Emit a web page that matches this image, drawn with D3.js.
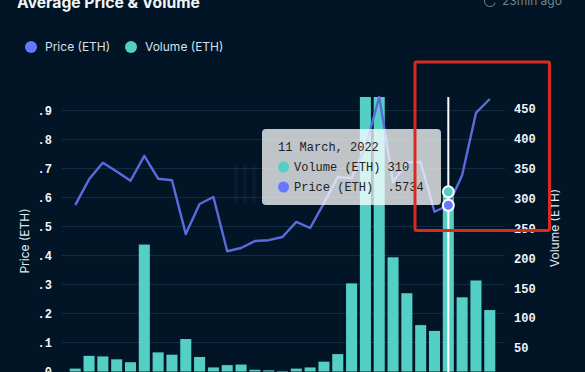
<!DOCTYPE html>
<html>
<head>
<meta charset="utf-8">
<script src="https://cdn.jsdelivr.net/npm/d3@7"></script>
<style>
    html, body { margin: 0; padding: 0; background: #021526; overflow: hidden; }
    svg { display: block; }
    .mono { font-family: "Liberation Mono", monospace; }
    .sans { font-family: Inter, sans-serif; }
</style>
</head>
<body>
<svg id="chart" width="585" height="372"></svg>
<script>
const width = 585;
const height = 372;

const priceTicks = [0, .1, .2, .3, .4, .5, .6, .7, .8, .9];
const volumeTicks = [50, 100, 150, 200, 250, 300, 350, 400, 450];

// the two tallest bars run off the top so those are guesses
const days = d3.range(31);
const volume = [5, 27, 26, 21, 16, 219, 33, 29, 56, 25, 7, 11, 12, 3, 2, 1, 5, 7, 17, 30, 152, 560, 620, 197, 135, 80, 70, 310, 128, 157, 106];
const price = [.574, .663, .72, .69, .658, .744, .665, .66, .474, .578, .602, .415, .426, .45, .453, .464, .516, .495, .581, .671, .667, .774, .947, .653, .722, .722, .551, .5734, .677, .892, .94];

const hovered = 27;
const hoverDate = "11 March, 2022";
const hoverVolume = "310";
const hoverPrice = ".5734";

const teal = "#54cfc5";
const blue = "#5a6bdc";
const legendBlue = "#6678ff";
const gridColor = "#122f42";

const plot = { left: 62, right: 505, top: 97, bottom: 371.5 };

let svg = d3.select("#chart");

let x = d3.scaleBand()
    .domain(days)
    .range([69.7, 495.3])
    .paddingInner(0.2)
    .paddingOuter(0);

let yPrice = d3.scaleLinear()
    .domain([0, .947])
    .range([plot.bottom, plot.top])
    .clamp(true);

let yVolume = d3.scaleLinear()
    .domain([0, 473.5])
    .range([plot.bottom, plot.top])
    .clamp(true);

// the right labels don't sit on the grid in the original, they spread a bit wider
let yVolumeLabels = d3.scaleLinear()
    .domain([50, 450])
    .range([348, 109]);

// title and the "updated" note are cut off by the top of the picture
svg.append("text")
    .classed("sans", true)
    .attr("x", 17)
    .attr("y", 8)
    .attr("font-size", 15.7)
    .attr("font-weight", 700)
    .attr("fill", "#f2f5f8")
    .text("Average Price & Volume");

svg.append("path")
    .attr("d", d3.arc()({ innerRadius: 5, outerRadius: 6, startAngle: Math.PI * 0.6, endAngle: Math.PI * 2 }))
    .attr("transform", "translate(490 1)")
    .attr("fill", "#76838f");

svg.append("text")
    .classed("sans", true)
    .attr("x", 502)
    .attr("y", 5)
    .attr("font-size", 12)
    .attr("fill", "#76838f")
    .text("23min ago");

// legend
let legend = svg.append("g")
    .selectAll("g")
    .data([
        { name: "Price (ETH)", color: legendBlue, x: 31 },
        { name: "Volume (ETH)", color: teal, x: 131 }
    ])
    .join("g")
    .attr("transform", d => `translate(${d.x} 47)`);

legend.append("circle")
    .attr("r", 6)
    .attr("fill", d => d.color);

legend.append("text")
    .classed("sans", true)
    .attr("x", 14)
    .attr("dy", "0.35em")
    .attr("font-size", 12)
    .attr("fill", "#d7e0e8")
    .text(d => d.name);

// grid
svg.append("g")
    .selectAll("line")
    .data(priceTicks.filter(d => d > 0))
    .join("line")
    .attr("x1", plot.left)
    .attr("x2", plot.right)
    .attr("y1", d => yPrice(d))
    .attr("y2", d => yPrice(d))
    .attr("stroke", gridColor);

// faint logo behind the chart
svg.append("g")
    .selectAll("rect")
    .data([234, 243, 252])
    .join("rect")
    .attr("x", d => d)
    .attr("y", 165)
    .attr("width", 4)
    .attr("height", 38)
    .attr("fill", "rgba(120,170,210,0.05)");

// axes
let axisLeft = d3.axisLeft(yPrice)
    .tickValues(priceTicks)
    .tickSize(0)
    .tickPadding(0)
    .tickFormat(d => d === 0 ? "0" : d3.format(".1f")(d).slice(1));

let axisRight = d3.axisRight(yVolumeLabels)
    .tickValues(volumeTicks)
    .tickSize(0)
    .tickPadding(0);

svg.append("g")
    .attr("transform", "translate(52 0)")
    .call(axisLeft)
    .call(g => g.select(".domain").remove());

svg.append("g")
    .attr("transform", "translate(514 0)")
    .call(axisRight)
    .call(g => g.select(".domain").remove());

svg.selectAll(".tick text")
    .classed("mono", true)
    .attr("font-family", null)
    .style("font-size", "12px")
    .style("font-weight", 700)
    .attr("fill", "#f2f5f8");

svg.append("text")
    .classed("sans", true)
    .attr("transform", "translate(25 241) rotate(-90)")
    .attr("text-anchor", "middle")
    .attr("dy", "0.35em")
    .attr("font-size", 12)
    .attr("fill", "#e3e9ee")
    .text("Price (ETH)");

svg.append("text")
    .classed("sans", true)
    .attr("transform", "translate(555 228) rotate(-90)")
    .attr("text-anchor", "middle")
    .attr("dy", "0.35em")
    .attr("font-size", 12)
    .attr("fill", "#e3e9ee")
    .text("Volume (ETH)");

// bars
svg.append("g")
    .selectAll("rect")
    .data(volume)
    .join("rect")
    .attr("x", (d, i) => x(i))
    .attr("y", d => yVolume(d))
    .attr("width", x.bandwidth())
    .attr("height", d => plot.bottom - yVolume(d))
    .attr("fill", teal);

// price line
let line = d3.line()
    .x((d, i) => x(i) + x.bandwidth() / 2)
    .y(d => yPrice(d));

svg.append("path")
    .datum(price)
    .attr("d", line)
    .attr("fill", "none")
    .attr("stroke", blue)
    .attr("stroke-width", 2.4)
    .attr("stroke-linejoin", "round");

// hover cursor and its two dots
let hoverX = x(hovered) + x.bandwidth() / 2;

svg.append("line")
    .attr("x1", hoverX)
    .attr("x2", hoverX)
    .attr("y1", plot.top)
    .attr("y2", height)
    .attr("stroke", "#fff")
    .attr("stroke-width", 2);

svg.append("circle")
    .attr("cx", hoverX)
    .attr("cy", yVolume(volume[hovered]))
    .attr("r", 5.5)
    .attr("fill", teal)
    .attr("stroke", "#fff")
    .attr("stroke-width", 2);

svg.append("circle")
    .attr("cx", hoverX)
    .attr("cy", yPrice(price[hovered]))
    .attr("r", 5.5)
    .attr("fill", legendBlue)
    .attr("stroke", "#fff")
    .attr("stroke-width", 2);

// tooltip
let tip = svg.append("g")
    .attr("transform", "translate(262 129)");

tip.append("rect")
    .attr("width", 179)
    .attr("height", 76)
    .attr("rx", 4)
    .attr("fill", "rgba(255,255,255,0.75)");

tip.append("text")
    .classed("mono", true)
    .attr("x", 16)
    .attr("y", 22)
    .attr("font-size", 12)
    .attr("fill", "#222")
    .text(hoverDate);

let tipRows = tip.selectAll(".row")
    .data([
        { label: "Volume (ETH) " + hoverVolume, color: teal, y: 38 },
        { label: "Price (ETH)  " + hoverPrice, color: legendBlue, y: 58 }
    ])
    .join("g")
    .classed("row", true)
    .attr("transform", d => `translate(0 ${d.y})`);

tipRows.append("circle")
    .attr("cx", 21.5)
    .attr("r", 5.5)
    .attr("fill", d => d.color);

tipRows.append("text")
    .classed("mono", true)
    .attr("x", 32)
    .attr("dy", "0.35em")
    .attr("font-size", 12)
    .attr("fill", "#222")
    .style("white-space", "pre")
    .text(d => d.label);

// red box somebody drew over the screenshot
svg.append("rect")
    .attr("x", 415)
    .attr("y", 62)
    .attr("width", 134.5)
    .attr("height", 168.5)
    .attr("rx", 1.5)
    .attr("fill", "none")
    .attr("stroke", "#d92a20")
    .attr("stroke-width", 3);
</script>
</body>
</html>
